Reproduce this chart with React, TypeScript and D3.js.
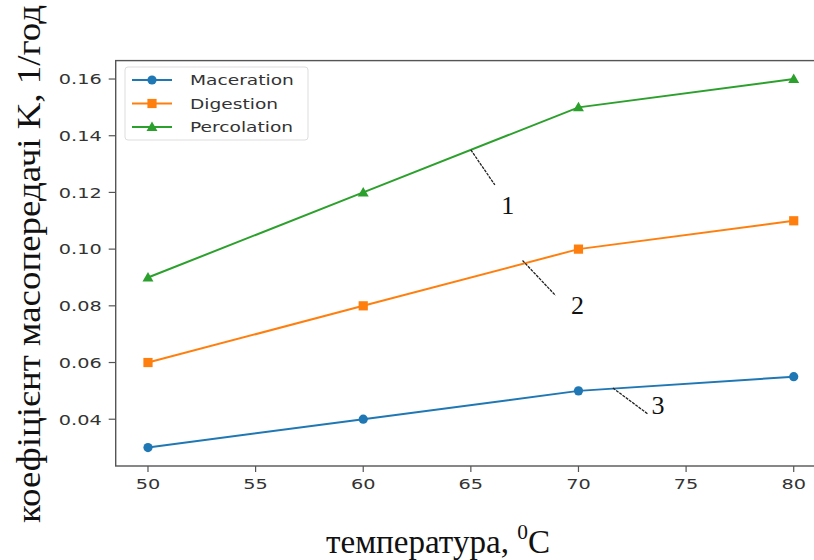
import React from "react";
import * as d3 from "d3";

const temperatures = [50, 60, 70, 80];
const maceration = [0.03, 0.04, 0.05, 0.055];
const digestion = [0.06, 0.08, 0.1, 0.11];
const percolation = [0.09, 0.12, 0.15, 0.16];
const xTicks = [50, 55, 60, 65, 70, 75, 80];
const yTicks = [0.04, 0.06, 0.08, 0.1, 0.12, 0.14, 0.16];

const seriesNames = ["Maceration", "Digestion", "Percolation"];
const seriesValues = [maceration, digestion, percolation];
const seriesColors = ["#1f77b4", "#ff7f0e", "#2ca02c"];
const markerKinds = ["circle", "square", "triangle"];

// curve labels: anchor on the curve (data coords) and label text
const curveLabels = ["1", "2", "3"];
const curveAnchorsX = [65, 67.4, 71.6];
const curveAnchorsY = [0.135, 0.096, 0.051];

const W = 814;
const H = 560;
const margin = { left: 115.7, top: 60.6, right: 826, bottom: 466 };
const STRETCH = 1.33;

function Marker({ kind, x, y, color }: { kind: string; x: number; y: number; color: string }) {
  if (kind === "circle") return <circle cx={x} cy={y} r={4.6} fill={color} />;
  if (kind === "square") return <rect x={x - 4.6} y={y - 4.6} width={9.2} height={9.2} fill={color} />;
  const s = d3.symbol(d3.symbolTriangle, 52)();
  return <path d={s || ""} transform={`translate(${x},${y + 0.8})`} fill={color} />;
}

export default function App() {
  const x = d3.scaleLinear().domain([48.5, 81.5]).range([margin.left, margin.right]);
  const y = d3.scaleLinear().domain([0.0235, 0.1665]).range([margin.bottom, margin.top]);
  const line = d3
    .line<number>()
    .x((_, i) => x(temperatures[i]))
    .y((d) => y(d));

  const tickFont = "'DejaVu Sans', sans-serif";
  const leaderEnd = [
    [24, 35],
    [33, 35],
    [35, 26],
  ];
  const labelOff = [
    [37, 64],
    [55, 54],
    [45, 26],
  ];

  return (
    <svg
      width={W}
      height={H}
      style={{ position: "absolute", left: 0, top: 0, background: "#fff" }}
      viewBox={`0 0 ${W} ${H}`}
    >
      {/* frame */}
      <rect
        x={margin.left}
        y={margin.top}
        width={margin.right - margin.left}
        height={margin.bottom - margin.top}
        fill="none"
        stroke="#555"
        strokeWidth={1.4}
      />

      {/* x ticks */}
      {xTicks.map((t) => (
        <g key={`x${t}`}>
          <line x1={x(t)} x2={x(t)} y1={margin.bottom} y2={margin.bottom + 6} stroke="#555" strokeWidth={1.2} />
          <text
            transform={`translate(${x(t)},${margin.bottom + 23}) scale(${STRETCH},1)`}
            textAnchor="middle"
            fontFamily={tickFont}
            fontSize={14.5}
            fill="#333"
          >
            {t}
          </text>
        </g>
      ))}

      {/* y ticks */}
      {yTicks.map((t) => (
        <g key={`y${t}`}>
          <line x1={margin.left - 7} x2={margin.left} y1={y(t)} y2={y(t)} stroke="#555" strokeWidth={1.2} />
          <text
            transform={`translate(${margin.left - 14},${y(t) + 5.3}) scale(${STRETCH},1)`}
            textAnchor="end"
            fontFamily={tickFont}
            fontSize={14.5}
            fill="#333"
          >
            {t.toFixed(2)}
          </text>
        </g>
      ))}

      {/* series */}
      {seriesValues.map((vals, si) => (
        <g key={seriesNames[si]}>
          <path d={line(vals) || ""} fill="none" stroke={seriesColors[si]} strokeWidth={2} />
          {vals.map((v, i) => (
            <Marker key={i} kind={markerKinds[si]} x={x(temperatures[i])} y={y(v)} color={seriesColors[si]} />
          ))}
        </g>
      ))}

      {/* curve number labels with leader lines */}
      {curveLabels.map((lab, i) => {
        const ax = x(curveAnchorsX[i]);
        const ay = y(curveAnchorsY[i]);
        return (
          <g key={`c${lab}`}>
            <line
              x1={ax}
              y1={ay}
              x2={ax + leaderEnd[i][0]}
              y2={ay + leaderEnd[i][1]}
              stroke="#222"
              strokeWidth={1.3}
              strokeDasharray="3,1"
            />
            <text
              x={ax + labelOff[i][0]}
              y={ay + labelOff[i][1]}
              textAnchor="middle"
              fontFamily="'Liberation Serif', serif"
              fontSize={26}
              fill="#111"
            >
              {lab}
            </text>
          </g>
        );
      })}

      {/* legend */}
      <g>
        <rect x={125} y={67} width={183} height={73} rx={3} fill="#fff" fillOpacity={0.8} stroke="#ddd" strokeWidth={1} />
        {seriesNames.map((name, i) => {
          const ly = 80 + i * 23.5;
          return (
            <g key={`l${name}`}>
              <line x1={132} x2={172} y1={ly} y2={ly} stroke={seriesColors[i]} strokeWidth={2} />
              <Marker kind={markerKinds[i]} x={152} y={ly} color={seriesColors[i]} />
              <text
                transform={`translate(190,${ly + 5}) scale(${STRETCH},1)`}
                fontFamily={tickFont}
                fontSize={14}
                fill="#333"
              >
                {name}
              </text>
            </g>
          );
        })}
      </g>

      {/* axis titles */}
      <text
        x={326}
        y={553}
        fontFamily="'Liberation Serif', serif"
        fontSize={34}
        fill="#111"
        textLength={224}
        lengthAdjust="spacingAndGlyphs"
      >
        температура,{" "}
        <tspan fontSize={22} dy={-14}>
          0
        </tspan>
        <tspan dy={14}>C</tspan>
      </text>
      <text
        transform={`translate(40,523) rotate(-90)`}
        fontFamily="'Liberation Serif', serif"
        fontSize={34}
        fill="#111"
        textLength={518}
        lengthAdjust="spacingAndGlyphs"
      >
        коефіцієнт масопередачі K, 1/год
      </text>
    </svg>
  );
}
